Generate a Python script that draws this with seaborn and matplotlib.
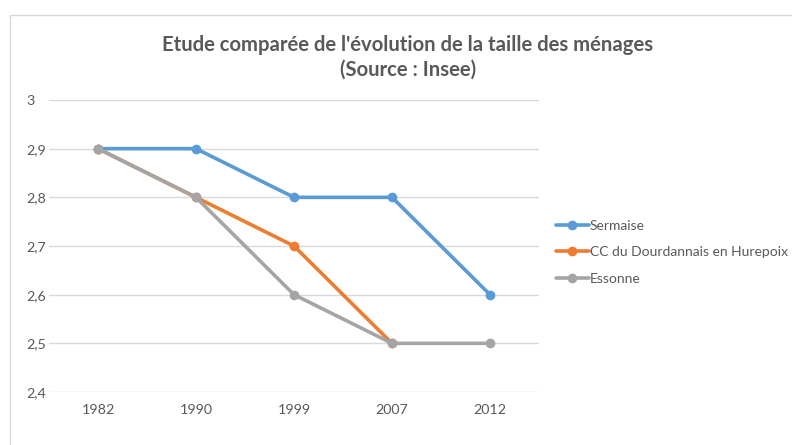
import pandas as pd
import matplotlib.pyplot as plt
import matplotlib.patches as patches
import seaborn as sns

# data
years = ['1982', '1990', '1999', '2007', '2012']
sermaise = [2.9, 2.9, 2.8, 2.8, 2.6]
cc_dourdan = [2.9, 2.8, 2.7, 2.5, None]
essonne = [2.9, 2.8, 2.6, 2.5, 2.5]
series_names = ['Sermaise', 'CC du Dourdannais en Hurepoix', 'Essonne']
colors = ['#5B9BD5', '#ED7D31', '#A5A5A5']
ytick_vals = [2.4, 2.5, 2.6, 2.7, 2.8, 2.9, 3.0]
ytick_labels = ['2,4', '2,5', '2,6', '2,7', '2,8', '2,9', '3']

df = pd.DataFrame({'Année': years, series_names[0]: sermaise,
                   series_names[1]: cc_dourdan, series_names[2]: essonne})
long = df.melt(id_vars='Année', var_name='Série', value_name='Taille').dropna()

sns.set_theme(style='white')
plt.rcParams['font.family'] = ['Lato', 'DejaVu Sans']
grey = '#595959'

fig = plt.figure(figsize=(7.92, 4.45), dpi=100)
ax = fig.add_axes([49 / 792, 1 - 392 / 445, 490 / 792, 292 / 445])

# chart frame
fig.patches.append(patches.Rectangle((10 / 792, -0.1), 1.2, 1 - 15 / 445 + 0.1,
                                     transform=fig.transFigure, fill=False,
                                     edgecolor='#D9D9D9', linewidth=1, zorder=0))

sns.lineplot(data=long, x='Année', y='Taille', hue='Série', palette=colors,
             hue_order=series_names, marker='o', markersize=7,
             markeredgewidth=0, linewidth=2.6, sort=False, ax=ax)

ax.set_xlim(-0.5, 4.5)
ax.set_ylim(2.4, 3.0)
ax.set_yticks(ytick_vals)
ax.set_yticklabels(ytick_labels)
ax.yaxis.grid(True, color='#D9D9D9', linewidth=1)
ax.set_axisbelow(True)
for s in ax.spines.values():
    s.set_visible(False)
ax.tick_params(axis='both', length=0, labelsize=10.3, labelcolor=grey)
ax.tick_params(axis='x', pad=9)
ax.tick_params(axis='y', pad=16.5)
for lbl in ax.get_yticklabels():
    lbl.set_horizontalalignment('left')
ax.set_xlabel('')
ax.set_ylabel('')

fig.text(408 / 792, 1 - 45 / 445, "Etude comparée de l'évolution de la taille des ménages",
         ha='center', va='center', fontsize=14.6, color=grey, fontweight='bold')
fig.text(408 / 792, 1 - 70 / 445, '(Source : Insee)',
         ha='center', va='center', fontsize=14.6, color=grey, fontweight='bold')

handles, labels = ax.get_legend_handles_labels()
ax.legend(handles, labels, loc='upper left', bbox_to_anchor=(550 / 792, 1 - 214 / 445),
          bbox_transform=fig.transFigure, frameon=False, fontsize=10.0,
          labelcolor=grey, handlelength=2.4, handletextpad=0.05, labelspacing=1.05,
          borderaxespad=0)

fig.savefig('out.png', dpi=100)
